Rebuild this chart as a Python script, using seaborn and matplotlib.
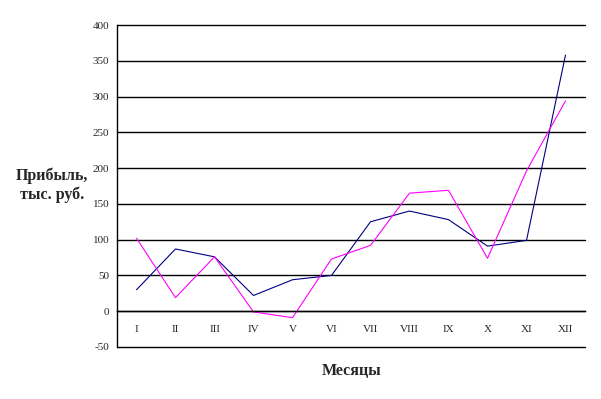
import matplotlib
matplotlib.use("Agg")
import matplotlib.pyplot as plt
import seaborn as sns
import pandas as pd
from matplotlib.ticker import FixedLocator

# ─── Data ─────────────────────────────────────────────────────────────
months = ["I", "II", "III", "IV", "V", "VI", "VII", "VIII", "IX", "X", "XI", "XII"]
profit_a = [30, 87, 76, 22, 44, 50, 125, 140, 128, 91, 99, 358]    # navy
profit_b = [102, 19, 76, -1, -9, 73, 92, 165, 169, 74, 196, 294]   # magenta
y_ticks = [-50, 0, 50, 100, 150, 200, 250, 300, 350, 400]

sns.set_style("white")
plt.rcParams['font.family'] = ['Liberation Serif', 'DejaVu Serif']
plt.rcParams['axes.unicode_minus'] = False

df = pd.DataFrame({"month": months * 2,
                   "profit": profit_a + profit_b,
                   "series": ["a"] * 12 + ["b"] * 12})

fig = plt.figure(figsize=(6.01, 3.99), dpi=100)
ax = fig.add_axes([117/601, 1 - 347/399, (585 - 117)/601, (347 - 25)/399])

sns.lineplot(data=df, x="month", y="profit", hue="series", sort=False,
             palette={"a": "#000080", "b": "#FF00FF"}, linewidth=0.8,
             legend=False, ax=ax)

ax.set_xlim(-0.5, 11.5)
ax.set_ylim(-50, 400)
ax.set_yticks(y_ticks)
ax.yaxis.grid(True, color="black", linewidth=1.0)
for gl in ax.yaxis.get_gridlines():
    gl.set_clip_on(False)
ax.set_axisbelow(True)

# x axis drawn at zero, ticks between categories
for s in ["top", "right"]:
    ax.spines[s].set_visible(False)
ax.spines["bottom"].set_position(("data", 0))
ax.spines["bottom"].set_color("black")
ax.spines["left"].set_color("black")
ax.spines["bottom"].set_linewidth(1.0)
ax.spines["left"].set_linewidth(1.0)

ax.set_xticks(range(len(months)))
ax.set_xticklabels(months, fontsize=8)
ax.xaxis.set_minor_locator(FixedLocator([i + 0.5 for i in range(12)]))
ax.tick_params(axis="x", which="major", length=0, pad=10)
ax.tick_params(axis="x", which="minor", length=4, width=1, color="black", direction="out")
ax.tick_params(axis="y", length=4, width=1, color="black", direction="out", labelsize=8, pad=1.5)

ax.set_xlabel("")
ax.set_ylabel("")
fig.text(52/601, 1 - 185/399, "Прибыль,\nтыс. руб.", ha="center", va="center",
         fontsize=11.5, fontweight="bold", linespacing=1.2)
fig.text(352/601, 1 - 371/399, "Месяцы", ha="center", va="center",
         fontsize=11.5, fontweight="bold")

fig.savefig("out.png", dpi=100)
